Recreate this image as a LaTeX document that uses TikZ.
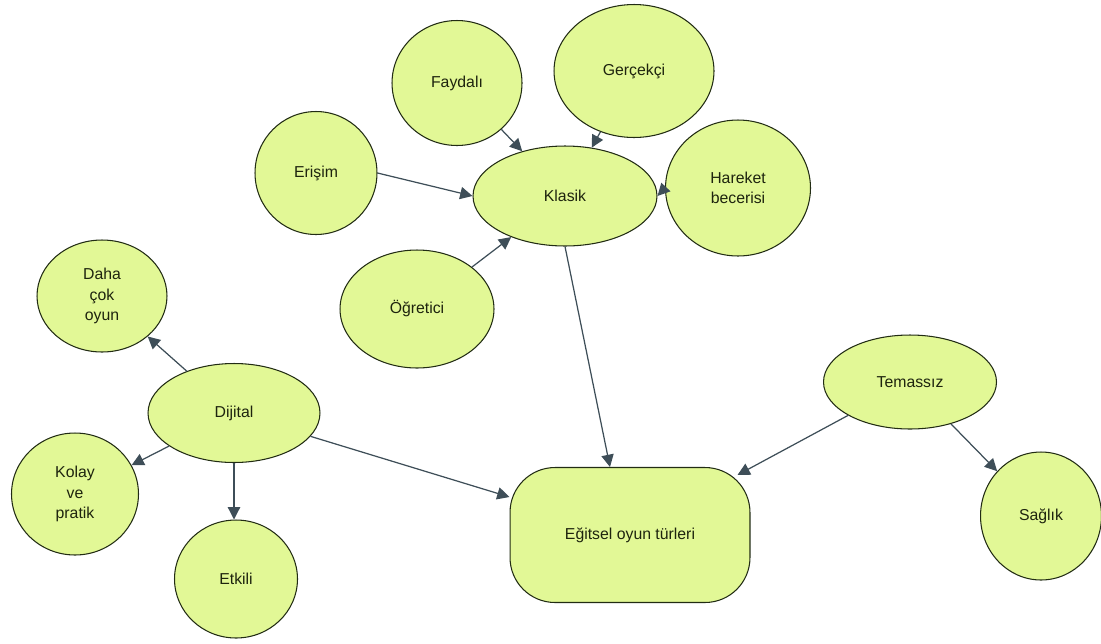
\documentclass[tikz,border=0pt]{standalone}
\usepackage{fontspec}
\setmainfont{Liberation Sans}
\usetikzlibrary{shapes.geometric,arrows.meta}
\definecolor{bubblefill}{RGB}{226,248,150}
\definecolor{bubbleline}{RGB}{34,44,20}
\definecolor{bubbletext}{RGB}{30,36,14}
\definecolor{linkcolor}{RGB}{62,78,88}
\tikzset{
  bubble/.style={ellipse, draw=bubbleline, fill=bubblefill, line width=0.6pt,
    inner sep=0pt, align=center, text=bubbletext, font=\fontsize{9}{11.5}\selectfont},
  box/.style={rectangle, rounded corners=0.9cm, draw=bubbleline, fill=bubblefill,
    line width=0.6pt, align=center, text=bubbletext, font=\fontsize{9}{11.5}\selectfont},
  wh/.style 2 args={minimum width=#1cm, minimum height=#2cm},
  link/.style={draw=linkcolor, line width=0.7pt,
    -{Triangle[length=7pt,width=7pt]}}
}
\begin{document}
\begin{tikzpicture}[x=0.02cm,y=-0.02cm]
  \useasboundingbox (0,0) rectangle (1101,643);
  {
  % Bubbles around Klasik
  \node [bubble, wh={2.6}{2.5}]   (faydali)  at (457,83)  {Faydalı};%
  \node [bubble, wh={3.2}{2.66}]  (gercekci) at (634,71)  {Gerçekçi};%
  \node [bubble, wh={2.44}{2.46}] (erisim)   at (316,173) {Erişim};%
  \node [bubble, wh={3.68}{2.0}]  (klasik)   at (565,196) {Klasik};%
  \node [bubble, wh={2.9}{2.72}]  (hareket)  at (738,188) {Hareket\\becerisi};%
  \node [bubble, wh={3.08}{2.36}] (ogretici) at (417,309) {Öğretici};%

  % Bubbles around Dijital
  \node [bubble, wh={2.6}{2.24}]  (dahacok)  at (102,296) {Daha\\çok\\oyun};%
  \node [bubble, wh={3.44}{1.98}] (dijital)  at (234,413) {Dijital};%
  \node [bubble, wh={2.54}{2.44}] (kolay)    at (75,494)  {Kolay\\ve\\pratik};%
  \node [bubble, wh={2.46}{2.36}] (etkili)   at (236,579) {Etkili};%

  % Bubbles around Temassiz
  \node [bubble, wh={3.46}{1.88}] (temassiz) at (910,382) {Temassız};%
  \node [bubble, wh={2.42}{2.56}] (saglik)   at (1041,516) {Sağlık};%

  % Centre box
  \node [box, wh={4.8}{2.7}]      (egitsel)  at (630,535) {Eğitsel oyun türleri};%

  % Drawing links into Klasik
  \draw [link] (faydali)  -- (klasik);%
  \draw [link] (gercekci) -- (klasik);%
  \draw [link] (erisim.east) -- (klasik.west);%
  \draw [link] (hareket.west) -- (klasik.east);%
  \draw [link] (ogretici) -- (klasik);%

  % Drawing links out of Dijital
  \draw [link] (dijital) -- (dahacok);%
  \draw [link] (dijital) -- (kolay);%
  \draw [link] (dijital.south) -- (dijital.south |- etkili.north);%
  \draw [link] (dijital) -- ([yshift=0.76cm]egitsel.west);%

  % Drawing links out of Temassiz
  \draw [link] (temassiz) -- ([shift={(-13,8)}]egitsel.north east);%
  \draw [link] (temassiz) -- (saglik);%

  % Drawing link Klasik to the box
  \draw [link] (klasik.south) -- ([xshift=-0.4cm]egitsel.north);%
  }
\end{tikzpicture}
\end{document}
